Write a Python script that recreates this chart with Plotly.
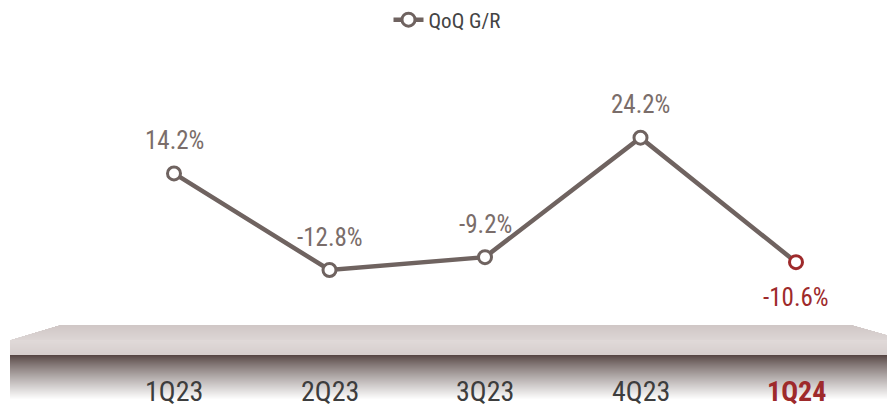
import plotly.graph_objects as go

categories = ["1Q23", "2Q23", "3Q23", "4Q23", "1Q24"]
qoq_gr = [14.2, -12.8, -9.2, 24.2, -10.6]
label_text = ["14.2%", "-12.8%", "-9.2%", "24.2%", "-10.6%"]
series_name = "QoQ G/R"

# page body has an 8px margin: work in page pixels, convert to figure pixels
OFF = 8
PW, PH = 895, 408
W, H = PW - OFF, PH - OFF

FONT = "Liberation Sans Narrow, Arial Narrow, Roboto Condensed, Liberation Sans, sans-serif"
LINE_C = "#6f6360"
LABEL_C = "#7a6d6a"
RED = "#9e2a2b"

n = len(categories)
marker_line = [LINE_C] * (n - 1) + [RED]

fig = go.Figure()
fig.add_trace(go.Scatter(
    x=categories, y=qoq_gr, mode="lines+markers", name=series_name,
    line=dict(color=LINE_C, width=4.5),
    marker=dict(size=13, color="white", line=dict(color=marker_line, width=3)),
    hoverinfo="skip",
))

def px_x(p):
    return (p - OFF) / W

def px_y(p):
    return 1 - (p - OFF) / H

annotations = []
for i, (c, v, t) in enumerate(zip(categories, qoq_gr, label_text)):
    last = i == n - 1
    annotations.append(dict(
        x=c, y=v, text=t, showarrow=False, xref="x", yref="y",
        yshift=-35 if last else 33,
        font=dict(family=FONT, size=25, color=RED if last else LABEL_C),
    ))

for i, c in enumerate(categories):
    last = i == n - 1
    annotations.append(dict(
        x=c, y=px_y(391.5), yref="paper", xref="x", text=f"<b>{c}</b>" if last else c,
        showarrow=False, yanchor="middle",
        font=dict(family=FONT, size=28, color=RED if last else "#3d3d3d"),
    ))

def hexmix(c1, c2, t):
    a = [int(c1[k:k + 2], 16) for k in (1, 3, 5)]
    b = [int(c2[k:k + 2], 16) for k in (1, 3, 5)]
    return "#%02x%02x%02x" % tuple(round(a[j] + (b[j] - a[j]) * t) for j in range(3))

shapes = []
def band(x0, x1, py0, py1, color):
    shapes.append(dict(type="rect", xref="paper", yref="paper", layer="below",
                       x0=px_x(x0), x1=px_x(x1), y0=px_y(py1), y1=px_y(py0),
                       fillcolor=color, line=dict(width=0)))

top0, top1 = 325, 340
for py in range(top0, top1):
    t = (py - top0 + 0.5) / (top1 - top0)
    xl = 60 - (60 - 10) * t
    xr = 852 + (905 - 852) * t
    band(xl, xr, py, py + 1, hexmix("#d0c7c6", "#dcd5d4", t))
for py in range(340, 355):
    t = (py - 340) / 15
    band(10, PW + 5, py, py + 1, hexmix("#e0d9d8", "#d6cecd", t))
g0, g1 = 355, 399
for py in range(g0, g1):
    t = (py - g0) / (g1 - g0)
    band(10, PW + 5, py, py + 1, hexmix("#564644", "#ffffff", t ** 0.85))

# axis ranges from page-pixel anchors: category 0 at x=174, step 155 px
ppx = 155.5
x0 = -(174 - OFF) / ppx
x1 = x0 + W / ppx
ppu = (270 - 137.7) / (24.2 - (-12.8))
y1 = 24.2 + (137.7 - OFF) / ppu
y0 = y1 - H / ppu

fig.update_layout(
    width=W, height=H,
    margin=dict(l=0, r=0, t=0, b=0, autoexpand=False),
    paper_bgcolor="white", plot_bgcolor="white",
    xaxis=dict(range=[x0, x1], visible=False, type="category"),
    yaxis=dict(range=[y0, y1], visible=False),
    showlegend=True,
    legend=dict(x=px_x(447), y=px_y(20), xanchor="center", yanchor="middle",
                xref="container", yref="container",
                orientation="h", bgcolor="rgba(0,0,0,0)",
                font=dict(family=FONT, size=21, color="#444444")),
    annotations=annotations,
    shapes=shapes,
)

fig.write_html("out.html")
